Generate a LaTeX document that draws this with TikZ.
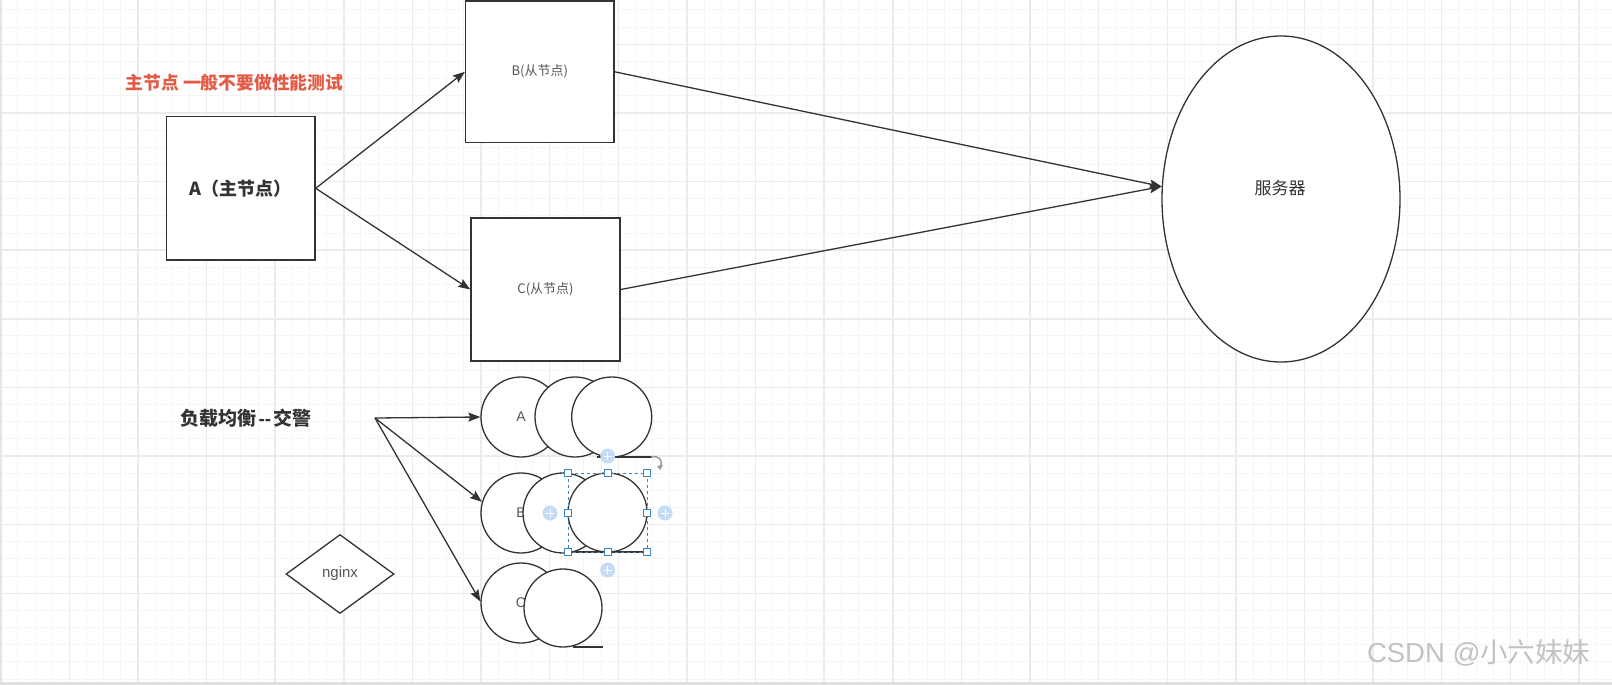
\documentclass[tikz,border=0pt]{standalone}
\usepackage{fontspec}
\setmainfont{Noto Sans CJK SC}
\newfontfamily\lat{Liberation Sans}
\usetikzlibrary{shapes.geometric,arrows.meta}
\definecolor{ink}{HTML}{333333}
\definecolor{lbl}{HTML}{555555}
\definecolor{redt}{HTML}{E35B45}
\definecolor{gridminor}{HTML}{F5F5F5}
\definecolor{gridmajor}{HTML}{EBEBEB}
\definecolor{selblue}{HTML}{3D86C0}
\definecolor{plusblue}{HTML}{C4DCF5}
\definecolor{wm}{HTML}{C2C2C2}
\tikzset{
  boxnode/.style={draw=ink, line width=1.5pt, fill=white, rectangle, inner sep=0pt},
  circ/.style={circle, draw=ink, line width=1.3pt, fill=white, minimum size=80pt, inner sep=0pt},
  arr/.style={draw=ink, line width=1.3pt, -{Stealth[length=12pt,width=9pt,inset=2pt]}},
  handle/.style={rectangle, draw=selblue, fill=white, line width=0.8pt, minimum size=7pt, inner sep=0pt},
  plusdot/.style={circle, fill=plusblue, minimum size=15pt, inner sep=0pt},
}
\begin{document}
\begin{tikzpicture}[x=1pt,y=-1pt]
\useasboundingbox (0,0) rectangle (1612,685);
\fill[white] (0,0) rectangle (1612,685);
% grid
\foreach \i in {0,...,94} \draw[gridminor, line width=1pt] (0.7+\i*17.155,0) -- (0.7+\i*17.155,682);
\foreach \j in {0,...,39} \draw[gridminor, line width=1pt] (0,10+\j*17.155) -- (1612,10+\j*17.155);
\foreach \i in {0,...,23} \draw[gridmajor, line width=1.5pt] (0.7+\i*68.62,0) -- (0.7+\i*68.62,682);
\foreach \j in {0,...,9} \draw[gridmajor, line width=1.5pt] (0,44.3+\j*68.62-68.62) -- (1612,44.3+\j*68.62-68.62);
\fill[black!12] (0,682) rectangle (1612,685);
\draw[black!10, line width=1.5pt] (0.8,0) -- (0.8,682);

% top part
\node[anchor=west, text=redt, font=\bfseries\fontsize{17.8}{20}\selectfont] (note) at (122,83) {主节点 一般不要做性能测试};
\node[boxnode, minimum width=148.3pt, minimum height=143.3pt, text=ink, font=\bfseries\fontsize{18}{20}\selectfont] (A) at (240.8,188.3) {A（主节点）};
\node[boxnode, minimum width=148.3pt, minimum height=141.7pt, text=lbl, font=\fontsize{13}{16}\selectfont] (B) at (539.8,71.8) {B(从节点)};
\node[boxnode, minimum width=149pt, minimum height=143pt, text=lbl, font=\fontsize{13}{16}\selectfont] (C) at (545.5,289.5) {C(从节点)};
\node[ellipse, draw=ink, line width=1.3pt, fill=white, minimum width=238pt, minimum height=326pt, inner sep=0pt] (srv) at (1281,199) {};
\node[text=ink, font=\fontsize{17}{20}\selectfont] (srvlabel) at (1280,188) {服务器};

\draw[arr] (A.east) -- (B.west);
\draw[arr] (A.east) -- (C.west);
\draw[arr] (B.east) -- (srv.174);
\draw[arr] (C.east) -- (srv.174);

% load balancing part
\node[anchor=west, text=ink, font=\bfseries\fontsize{19}{22}\selectfont] (lb) at (177,418) {负载均衡\kern2pt{\lat -{}-}\kern2pt交警};
\coordinate (lbsrc) at (375,418);

\node[circ, label={[text=lbl, font=\lat\fontsize{14}{16}\selectfont]center:A}] (a1) at (521,417) {};
\node[circ] (a2) at (575,417) {};
\node[circ] (a3) at (611.7,417) {};
\draw[ink, line width=1.3pt] (597,457) -- (652,457);

\node[circ, label={[text=lbl, font=\lat\fontsize{14}{16}\selectfont]center:B}] (b1) at (521,513) {};
\node[circ] (b2) at (563,513) {};
\node[circ, minimum size=79pt] (b3) at (607.5,512.5) {};
\draw[ink, line width=1.3pt] (568,552) -- (647,552);

\node[circ, label={[text=lbl, font=\lat\fontsize{14}{16}\selectfont]center:C}] (c1) at (521,603) {};
\node[circ, minimum size=78pt] (c2) at (563,608) {};
\draw[ink, line width=1.3pt] (573,647) -- (603,647);

\draw[arr] (lbsrc) -- (a1.west);
\draw[arr] (lbsrc) -- (b1.164);
\draw[arr] (lbsrc) -- (c1.178);

% selection overlay
\draw[selblue, line width=0.8pt, dash pattern=on 3pt off 3pt] (568,473) rectangle (647,552);
\foreach \hx/\hy in {568/473,607.5/473,647/473,568/512.5,647/512.5,568/552,607.5/552,647/552}
  \node[handle] at (\hx,\hy) {};
\foreach \px/\py in {550/513,665/513,607.7/570,607.7/456}{
  \node[plusdot] at (\px,\py) {};
  \draw[white, line width=1pt] (\px-4,\py) -- (\px+4,\py) (\px,\py-4) -- (\px,\py+4);
}
\draw[black!40, line width=1.5pt] (651,457) .. controls (659,455) and (664,461) .. (660,467);
\fill[black!40] (657,466) -- (663,465) -- (660,470) -- cycle;

% nginx
\node[diamond, draw=ink, line width=1.3pt, fill=white, minimum width=108pt, minimum height=79pt, inner sep=0pt, text=lbl, font=\lat\fontsize{15}{17}\selectfont] (ngx) at (340,574) {nginx};

% watermark
\node[anchor=east, text=wm, font=\fontsize{27.5}{30}\selectfont] (wmark) at (1594,653) {{\lat CSDN @}小六妹妹};
\end{tikzpicture}
\end{document}
